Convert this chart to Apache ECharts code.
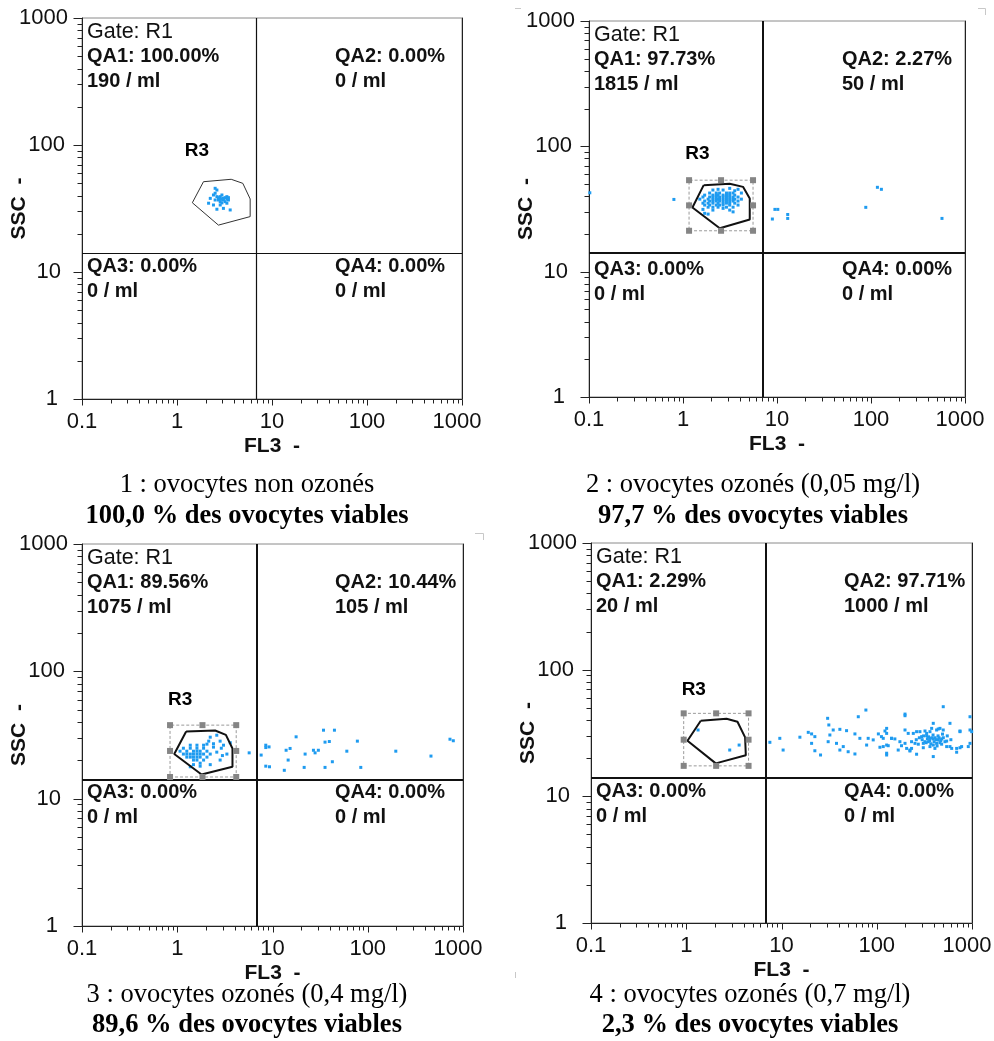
<!DOCTYPE html>
<html>
<head>
<meta charset="UTF-8">
<title>Cytométrie - ovocytes</title>
<script src="https://cdn.jsdelivr.net/npm/echarts@6/dist/echarts.min.js"></script>
<style>
  html, body { margin: 0; padding: 0; background: #fff; }
  #chart { width: 994px; height: 1041px; }
</style>
</head>
<body>
<div id="chart"></div>
<script>
// ---- axes ----
var xTicks = [0.1, 1, 10, 100, 1000];
var yTicks = [1, 10, 100, 1000];
var xMinor = [0.2, 0.3, 0.4, 0.5, 0.6, 0.7, 0.8, 0.9, 2, 3, 4, 5, 6, 7, 8, 9,
              20, 30, 40, 50, 60, 70, 80, 90, 200, 300, 400, 500, 600, 700, 800, 900];
var yMinor = [2, 3, 4, 5, 6, 7, 8, 9, 20, 30, 40, 50, 60, 70, 80, 90,
              200, 300, 400, 500, 600, 700, 800, 900];

// ---- quadrant limits (FL3, SSC) ----
var quadX = [6.9, 7.0, 6.9, 6.9];
var quadY = [14.1, 14.1, 14.2, 14.1];

// ---- quadrant stats ----
var gateName = 'Gate: R1';
var qaPct = [
    ['100.00%', '0.00%', '0.00%', '0.00%'],
    ['97.73%', '2.27%', '0.00%', '0.00%'],
    ['89.56%', '10.44%', '0.00%', '0.00%'],
    ['2.29%', '97.71%', '0.00%', '0.00%']
];
var qaCount = [
    [190, 0, 0, 0],
    [1815, 50, 0, 0],
    [1075, 105, 0, 0],
    [20, 1000, 0, 0]
];

// ---- captions ----
var captions = [
    ['1 : ovocytes non ozonés', '100,0 % des ovocytes viables'],
    ['2 : ovocytes ozonés (0,05 mg/l)', '97,7 % des ovocytes viables'],
    ['3 : ovocytes ozonés (0,4 mg/l)', '89,6 % des ovocytes viables'],
    ['4 : ovocytes ozonés (0,7 mg/l)', '2,3 % des ovocytes viables']
];

// ---- R3 gate polygons ----
var gate1 = [[1.90, 51.4], [3.72, 53.7], [4.93, 49.9], [5.89, 37.6], [5.89, 27.3], [2.73, 23.4], [1.45, 35.1], [1.90, 51.4]];
var gate2 = [[1.66, 49.0], [3.14, 50.2], [4.35, 47.5], [5.13, 38.4], [5.13, 26.1], [2.46, 22.2], [1.26, 32.5], [1.66, 49.0]];
var gate3 = [[1.24, 33.7], [2.50, 34.3], [3.24, 31.7], [3.80, 24.8], [3.80, 17.8], [1.80, 15.5], [0.93, 22.4], [1.24, 33.7]];
var gate4 = [[1.42, 39.5], [2.65, 41.0], [3.45, 38.8], [4.15, 29.2], [4.22, 21.1], [2.04, 18.2], [1.03, 27.5], [1.42, 39.5]];
var gates = [gate1, gate2, gate3, gate4];

// selection box handles (x: left, mid, right / y: bottom, mid, top)
var boxX = [null, [1.16, 2.54, 5.56], [0.84, 1.84, 4.16], [0.94, 2.06, 4.51]];
var boxY = [null, [21.2, 33.8, 53.7], [14.8, 23.7, 37.8], [17.4, 28.0, 45.2]];

var r3Pos = [[1.62, 90], [1.42, 86.7], [1.07, 59.4], [1.20, 69.9]];

// ---- events [FL3, SSC] ----
var events1 = [
    [2.52, 45.6], [2.63, 44.2], [2.42, 40.4], [2.63, 39.2], [2.73, 36.9], [2.85, 39.2], [2.97, 40.4],
    [3.08, 38.0], [3.35, 39.2], [3.48, 36.9], [3.21, 35.8], [2.85, 35.8], [2.52, 36.9], [2.24, 38.0],
    [2.15, 34.8], [2.42, 33.7], [2.85, 33.7], [3.35, 34.8], [3.08, 31.7], [2.63, 31.2], [3.63, 30.8],
    [2.52, 41.7], [2.97, 37.5], [3.08, 36.9], [2.85, 37.5], [3.21, 38.5], [3.35, 37.5], [2.73, 38.5],
    [3.48, 38.5], [2.97, 35.0]
];
var events2 = [
    [2.08, 44.8], [2.36, 45.4], [2.67, 44.8], [3.14, 46.2], [3.55, 44.2], [3.85, 45.4],
    [1.92, 42.4], [2.26, 42.4], [2.45, 42.4], [2.90, 42.4], [3.14, 42.4], [3.41, 42.4], [4.18, 42.4],
    [1.70, 40.8], [2.08, 40.8], [2.26, 40.8], [2.36, 40.8], [2.67, 40.8], [2.90, 40.8], [3.14, 40.8], [3.55, 40.8],
    [1.63, 39.4], [1.92, 39.4], [2.08, 39.4], [2.26, 39.4], [2.45, 39.4], [2.67, 39.4], [2.90, 39.4], [3.14, 39.4], [3.41, 39.4], [3.85, 39.4],
    [1.51, 37.9], [1.85, 37.9], [2.08, 37.9], [2.26, 37.9], [2.36, 37.9], [2.45, 37.9], [2.67, 37.9], [2.90, 37.9], [3.14, 37.9], [3.41, 37.9], [3.55, 37.9], [4.18, 37.9],
    [1.70, 36.6], [1.92, 36.6], [2.08, 36.6], [2.26, 36.6], [2.45, 36.6], [2.67, 36.6], [2.90, 36.6], [3.14, 36.6], [3.41, 36.6], [3.85, 36.6],
    [1.63, 35.2], [1.85, 35.2], [2.08, 35.2], [2.36, 35.2], [2.67, 35.2], [2.90, 35.2], [3.14, 35.2], [3.55, 35.2],
    [1.70, 34.0], [1.92, 34.0], [2.26, 34.0], [2.45, 34.0], [2.67, 34.0], [3.14, 34.0], [3.85, 34.0],
    [1.85, 32.7], [2.08, 32.7], [2.36, 32.7], [2.90, 32.7], [3.41, 32.7],
    [1.63, 31.4], [2.08, 31.0], [2.67, 32.0], [3.14, 31.0], [3.41, 30.0], [1.70, 29.2], [1.85, 28.8],
    [0.102, 42.6], [0.80, 37.7], [8.93, 26.3], [9.5, 31.4], [10.2, 31.4], [13.0, 28.6], [13.0, 26.6],
    [117, 47.1], [129, 45.4], [88, 32.6], [569, 26.6]
];
var events3 = [
    [1.16, 24.9], [1.26, 23.6], [1.26, 22.4], [1.37, 24.9], [1.37, 22.4], [1.37, 21.2], [1.48, 23.6],
    [1.48, 22.4], [1.48, 21.2], [1.48, 20.1], [1.61, 24.9], [1.61, 23.6], [1.61, 22.4], [1.61, 21.2],
    [1.61, 20.1], [1.74, 23.6], [1.74, 22.4], [1.74, 21.2], [1.74, 19.0], [1.89, 24.9], [1.89, 22.4],
    [1.89, 20.1], [2.05, 23.6], [2.05, 21.2], [1.26, 21.2], [1.16, 22.4], [1.07, 23.6], [1.37, 26.3],
    [1.61, 26.3], [1.74, 18.0], [1.48, 18.5], [2.22, 22.4], [1.89, 26.3],
    [2.22, 30.4], [2.14, 28.3], [2.82, 28.3], [2.90, 24.9], [2.40, 25.4], [2.60, 23.2], [2.82, 20.1],
    [1.37, 17.8], [3.06, 26.3], [2.60, 31.5], [2.40, 27.0], [3.32, 22.4], [2.05, 26.8], [3.60, 27.5],
    [2.22, 18.5], [2.98, 21.8],
    [5.69, 22.9], [8.5, 26.3], [8.5, 25.2], [7.6, 22.0], [8.5, 18.0], [9.3, 17.8], [13.9, 24.0],
    [14.6, 20.1], [15.3, 24.8], [17.7, 30.6], [13.3, 16.7], [21.5, 17.6], [26.9, 24.0], [28.0, 22.9],
    [30.3, 24.0], [34.3, 34.5], [44.7, 34.5], [35.6, 27.8], [39.5, 28.1], [42.5, 19.5], [35.6, 17.6],
    [60.3, 23.6], [77.8, 28.3], [84.5, 17.6], [197, 23.6], [461, 21.6], [730, 29.3], [791, 28.5],
    [22.0, 22.4], [9.2, 25.5]
];
var events4 = [
    [1.33, 33.4], [2.86, 23.2], [3.59, 25.4],
    [7.55, 26.7], [9.6, 28.7], [10.4, 23.2], [15.6, 29.3], [19.1, 32.0], [20.7, 31.1], [22.4, 29.6],
    [20.7, 26.2], [22.4, 22.9], [25.7, 21.2], [30.5, 41.3], [31.4, 36.6], [32.2, 30.5], [30.9, 27.0],
    [34.9, 33.4], [41.0, 33.8], [48.2, 33.0], [37.8, 26.2], [44.5, 24.7], [41.0, 23.2], [50.1, 22.5],
    [59.0, 31.1], [59.0, 21.6], [64.0, 42.5], [76.9, 48.0], [66.5, 28.7], [78.3, 25.4], [81.3, 28.7],
    [91.8, 27.9], [104, 31.1], [117, 28.7], [127, 25.4], [108, 24.4], [127, 21.9], [143, 28.7],
    [198, 44.6], [499, 51], [953, 42.5], [953, 33.4], [953, 26.2], [392, 37.7], [461, 34.4],
    [262, 32.4], [334, 31.4], [425, 33.4], [587, 24.7], [690, 23.9], [778, 24.7], [748, 32.4],
    [127, 31.4], [198, 26.2], [168, 23.2], [223, 23.2],
    [198, 43.3], [587, 37.7], [377, 34.4], [442, 34.0], [499, 33.4], [127, 34.4], [122, 32.8],
    [198, 33.4], [214, 31.4], [242, 31.4], [284, 32.4], [321, 32.8], [362, 32.4], [748, 32.8], [993, 32.4],
    [112, 29.6], [143, 28.7], [155, 28.4],
    [296, 29.6], [334, 30.1], [362, 28.7], [392, 28.4], [442, 27.9], [480, 28.4], [542, 27.3],
    [175, 27.0], [232, 27.0], [252, 26.2], [273, 25.8], [308, 26.2], [347, 27.0], [392, 25.4], [425, 26.2], [480, 25.8],
    [117, 24.7], [132, 25.1], [182, 25.1], [206, 23.9], [232, 23.9], [308, 24.2], [362, 24.7], [408, 23.9],
    [542, 24.7], [612, 23.9], [748, 24.2], [914, 24.7],
    [127, 21.2], [223, 22.8], [262, 21.5], [392, 20.6], [690, 22.3],
    [300, 28], [320, 27], [340, 28.5], [360, 27.5], [380, 29], [400, 27], [420, 28], [450, 29], [470, 27.5],
    [330, 26.5], [350, 29.5], [390, 30.5], [410, 29], [440, 30], [460, 26.5], [280, 29], [260, 28], [500, 29],
    [520, 27], [310, 30], [370, 26], [430, 25], [490, 31], [550, 30], [600, 28]
];
var events = [events1, events2, events3, events4];

// ---- layout ----
var grids = [
    {left: 82, top: 18, width: 380, height: 381},
    {left: 589, top: 21, width: 376, height: 376},
    {left: 82, top: 544, width: 381, height: 382},
    {left: 591, top: 543, width: 381, height: 380}
];
var captionPos = [[247, 485, 516.5], [753, 485, 516.5], [247, 995, 1025], [750, 995, 1025]];

var SANS = '"Liberation Sans", Arial, sans-serif';
var SERIF = '"Liberation Serif", "Times New Roman", serif';
var DOT = '#1e9bf0';
var INK = '#111';
var X_MIN = 0.1, X_MAX = 1000, Y_MIN = 1, Y_MAX = 1000;

var chart = echarts.init(document.getElementById('chart'));

// tick marks: [FL3, SSC, length, direction 0 = down / 1 = left]
var tickMarks = [];
xTicks.forEach(function (v) { tickMarks.push([v, Y_MIN, 6, 0]); });
xMinor.forEach(function (v) { tickMarks.push([v, Y_MIN, 4, 0]); });
yTicks.forEach(function (v) { tickMarks.push([X_MIN, v, 9, 1]); });
yMinor.forEach(function (v) { tickMarks.push([X_MIN, v, 5, 1]); });

function renderTick(params, api) {
    var p = api.coord([api.value(0), api.value(1)]);
    var len = api.value(2);
    var x = Math.round(p[0]) + 0.5, y = Math.round(p[1]) + 0.5;
    var shape = api.value(3) === 0
        ? {x1: x, y1: y, x2: x, y2: y + len}
        : {x1: x, y1: y, x2: x - len, y2: y};
    return {type: 'line', shape: shape, style: {stroke: '#222', lineWidth: 1}};
}

// label styles (the scanned software nudges some labels)
var labelFont = {fontSize: 22, color: INK, fontFamily: SANS};
function padStyle(right) {
    return {fontSize: 22, color: INK, fontFamily: SANS, padding: [0, right, 0, 0]};
}
var xRich = {n: padStyle(0), r: padStyle(10)};
var yRich = {p1: padStyle(10), p10: padStyle(7), p100: padStyle(3), p1000: padStyle(0)};

var gridOpt = [], xAxes = [], yAxes = [], series = [], graphics = [];

for (var i = 0; i < 4; i++) {
    var g = grids[i];
    gridOpt.push({
        left: g.left, top: g.top, width: g.width, height: g.height,
        outerBoundsMode: 'none', containLabel: false,
        show: true, borderColor: '#8a8a8a', borderWidth: 1, backgroundColor: 'transparent'
    });

    xAxes.push({
        type: 'log', logBase: 10, gridIndex: i, min: X_MIN, max: X_MAX, position: 'bottom',
        axisLine: {show: true, onZero: false, lineStyle: {color: '#222', width: 1}},
        axisTick: {show: false},
        axisLabel: {
            fontSize: 22, color: INK, fontFamily: SANS, margin: 12, rich: xRich,
            formatter: function (v) { return (v === 1000 ? '{r|' : '{n|') + v + '}'; }
        },
        splitLine: {show: false},
        name: 'FL3  -', nameLocation: 'middle', nameGap: 37,
        nameTextStyle: {fontWeight: 'bold', fontSize: 21, color: INK, fontFamily: SANS}
    });
    yAxes.push({
        type: 'log', logBase: 10, gridIndex: i, min: Y_MIN, max: Y_MAX, position: 'left',
        axisLine: {show: true, onZero: false, lineStyle: {color: '#222', width: 1}},
        axisTick: {show: false},
        axisLabel: {
            fontSize: 22, color: INK, fontFamily: SANS, margin: 14, rich: yRich,
            formatter: function (v) { return '{p' + v + '|' + v + '}'; }
        },
        splitLine: {show: false}
    });
    // right frame
    yAxes.push({
        type: 'log', logBase: 10, gridIndex: i, min: Y_MIN, max: Y_MAX, position: 'right',
        axisLine: {show: true, lineStyle: {color: '#222', width: 1}},
        axisTick: {show: false}, axisLabel: {show: false}, splitLine: {show: false}
    });

    var xi = i, yi = 2 * i;
    var thin = (i === 0);

    // ticks drawn through the axis scales
    series.push({
        type: 'custom', xAxisIndex: xi, yAxisIndex: yi, data: tickMarks, renderItem: renderTick,
        clip: false, silent: true, z: 1
    });

    // events + quadrant lines
    series.push({
        type: 'scatter', xAxisIndex: xi, yAxisIndex: yi, data: events[i],
        symbol: 'rect', symbolSize: [3, 3], itemStyle: {color: DOT, opacity: 1}, silent: true, z: 2,
        markLine: {
            silent: true, symbol: ['none', 'none'], label: {show: false},
            lineStyle: {color: INK, width: thin ? 1.2 : 2, type: 'solid'},
            emphasis: {disabled: true},
            data: [{xAxis: quadX[i]}, {yAxis: quadY[i]}]
        }
    });

    // selection box + handles
    if (boxX[i]) {
        var bx = boxX[i], by = boxY[i];
        series.push({
            type: 'line', xAxisIndex: xi, yAxisIndex: yi, symbol: 'none', silent: true, z: 3,
            lineStyle: {color: '#9a9a9a', width: 1, type: [3, 2]},
            data: [[bx[0], by[0]], [bx[2], by[0]], [bx[2], by[2]], [bx[0], by[2]], [bx[0], by[0]]]
        });
        var handles = [];
        for (var a = 0; a < 3; a++) {
            for (var b = 0; b < 3; b++) {
                if (a === 1 && b === 1) continue;
                handles.push([bx[a], by[b]]);
            }
        }
        series.push({
            type: 'scatter', xAxisIndex: xi, yAxisIndex: yi, data: handles, silent: true, z: 5,
            symbol: 'rect', symbolSize: 6, itemStyle: {color: '#858585', opacity: 1}
        });
    }

    // gate polygon
    series.push({
        type: 'line', xAxisIndex: xi, yAxisIndex: yi, data: gates[i], symbol: 'none', silent: true, z: 4,
        lineStyle: {color: thin ? '#333' : INK, width: thin ? 1 : 2}
    });

    // R3 label
    series.push({
        type: 'scatter', xAxisIndex: xi, yAxisIndex: yi, data: [r3Pos[i]], symbolSize: 1, silent: true, z: 6,
        itemStyle: {color: 'rgba(255,255,255,0)', opacity: 1},
        label: {
            show: true, position: 'inside', formatter: 'R3',
            fontSize: 19, fontWeight: 'bold', color: '#000', fontFamily: SANS
        }
    });

    // y axis title
    graphics.push({type: 'text', x: g.left - 63, y: g.top + g.height / 2, rotation: Math.PI / 2,
        style: {text: 'SSC  -', font: 'bold 21px ' + SANS, fill: INK, align: 'center', verticalAlign: 'middle'}});

    // quadrant texts
    var bold = 'bold 20px ' + SANS;
    var colL = g.left + 5, colR = g.left + 253;
    var rows = [g.top + 38, g.top + 63, g.top + 248, g.top + 273];
    graphics.push({type: 'text', x: colL, y: g.top + 14,
        style: {text: gateName, font: '21.5px ' + SANS, fill: INK, verticalAlign: 'middle'}});
    var qx = [colL, colR, colL, colR];
    var qy = [0, 0, 2, 2];
    for (var q = 0; q < 4; q++) {
        graphics.push({type: 'text', x: qx[q], y: rows[qy[q]],
            style: {text: 'QA' + (q + 1) + ': ' + qaPct[i][q], font: bold, fill: INK, verticalAlign: 'middle'}});
        graphics.push({type: 'text', x: qx[q], y: rows[qy[q] + 1],
            style: {text: qaCount[i][q] + ' / ml', font: bold, fill: INK, verticalAlign: 'middle'}});
    }

    // captions
    var cp = captionPos[i];
    graphics.push({type: 'text', x: cp[0], y: cp[1],
        style: {text: captions[i][0], font: '26.5px ' + SERIF, fill: '#000', align: 'center', verticalAlign: 'middle'}});
    graphics.push({type: 'text', x: cp[0], y: cp[2],
        style: {text: captions[i][1], font: 'bold 26.5px ' + SERIF, fill: '#000', align: 'center', verticalAlign: 'middle'}});
}

// small crop marks of the scanned page
var marks = [
    [[978, 8.5], [985.5, 8.5]], [[985.5, 8.5], [985.5, 15]],
    [[515, 8.5], [521, 8.5]],
    [[475, 533.5], [483.5, 533.5]], [[483.5, 533.5], [483.5, 540]],
    [[515.5, 972], [515.5, 978]]
];
marks.forEach(function (m) {
    graphics.push({type: 'line', shape: {x1: m[0][0], y1: m[0][1], x2: m[1][0], y2: m[1][1]},
        style: {stroke: '#c8c8c8', lineWidth: 1}});
});

chart.setOption({
    animation: false,
    backgroundColor: '#fff',
    grid: gridOpt,
    xAxis: xAxes,
    yAxis: yAxes,
    series: series,
    graphic: graphics
});
</script>
</body>
</html>
